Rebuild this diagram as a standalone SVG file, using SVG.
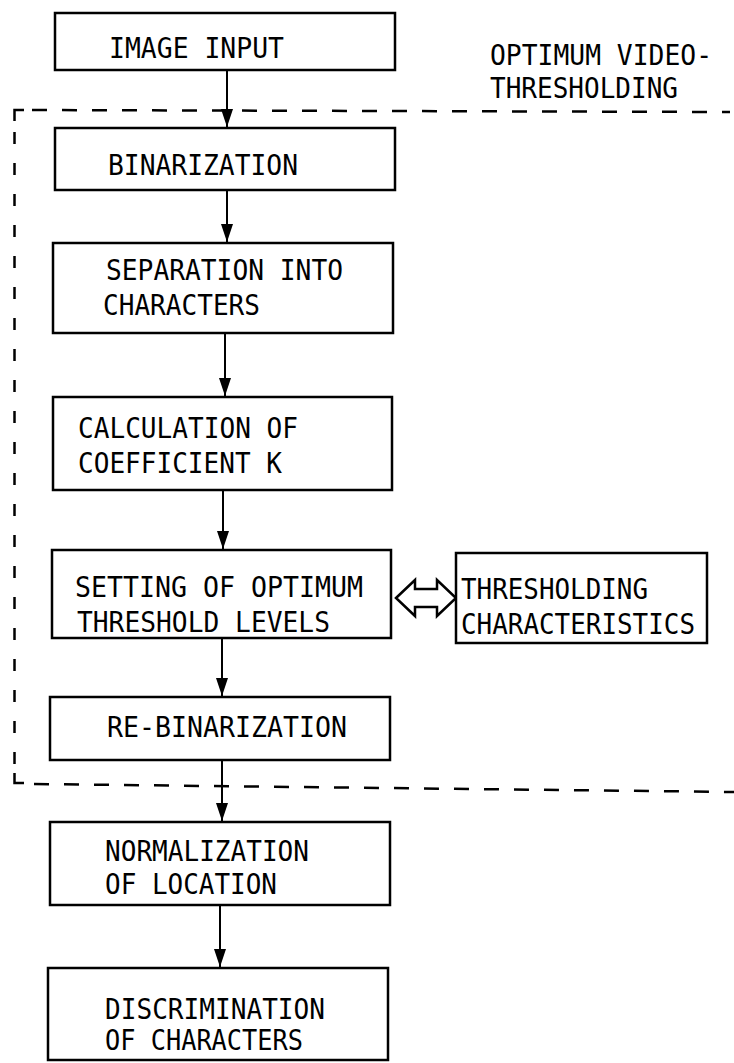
<svg xmlns="http://www.w3.org/2000/svg" width="734" height="1063" viewBox="0 0 734 1063">
<style>
  .box { fill: #fff; stroke: #000; stroke-width: 2.5; }
  .t { font-family: "DejaVu Sans Mono", "Liberation Mono", monospace; font-size: 29px; fill: #000; }
  .c { stroke: #000; stroke-width: 2; fill: none; }
  .dash { stroke: #000; stroke-width: 2.5; fill: none; }
  .dbl { fill: #fff; stroke: #000; stroke-width: 2.5; stroke-linejoin: miter; }
</style>
<defs>
  <marker id="ah" viewBox="0 0 18 12" refX="18" refY="6" markerWidth="18" markerHeight="12" markerUnits="userSpaceOnUse" orient="auto">
    <path d="M0,0 L18,6 L0,12 Z" fill="#000"/>
  </marker>
</defs>
<rect width="734" height="1063" fill="#fff"/>

<g id="boundary">
  <path class="dash" d="M32,110 L730,112" stroke-dasharray="15 15"/>
  <line class="dash" x1="14.5" y1="132" x2="14.5" y2="772" stroke-dasharray="12 19"/>
  <path class="dash" d="M34,784 L734,792" stroke-dasharray="15 15"/>
  <path class="dash" d="M14.5,121 L14.5,110 L24,110"/>
  <path class="dash" d="M14.5,773 L14.5,783 L24,783"/>
  <text class="t" x="490" y="65" textLength="222" lengthAdjust="spacingAndGlyphs">OPTIMUM VIDEO-</text>
  <text class="t" x="490" y="98" textLength="188" lengthAdjust="spacingAndGlyphs">THRESHOLDING</text>
</g>

<g id="connectors">
  <line class="c" x1="227" y1="70" x2="227" y2="127" marker-end="url(#ah)"/>
  <line class="c" x1="227" y1="190" x2="227" y2="242" marker-end="url(#ah)"/>
  <line class="c" x1="225" y1="333" x2="225" y2="396" marker-end="url(#ah)"/>
  <line class="c" x1="223" y1="490" x2="223" y2="549" marker-end="url(#ah)"/>
  <line class="c" x1="222" y1="638" x2="222" y2="696" marker-end="url(#ah)"/>
  <line class="c" x1="222" y1="760" x2="222" y2="821" marker-end="url(#ah)"/>
  <line class="c" x1="220" y1="905" x2="220" y2="967" marker-end="url(#ah)"/>
  <polygon class="dbl" points="396,598 415,580 415,589 437,589 437,580 456,598 437,616 437,607 415,607 415,616"/>
</g>

<g id="n-image-input">
  <rect class="box" x="55" y="13" width="340" height="57"/>
  <text class="t" x="109" y="58" textLength="175" lengthAdjust="spacingAndGlyphs">IMAGE INPUT</text>
</g>
<g id="n-binarization">
  <rect class="box" x="55" y="128" width="340" height="62"/>
  <text class="t" x="108" y="175" textLength="190" lengthAdjust="spacingAndGlyphs">BINARIZATION</text>
</g>
<g id="n-separation">
  <rect class="box" x="53" y="243" width="340" height="90"/>
  <text class="t" x="106" y="280" textLength="237" lengthAdjust="spacingAndGlyphs">SEPARATION INTO</text>
  <text class="t" x="103" y="315" textLength="157" lengthAdjust="spacingAndGlyphs">CHARACTERS</text>
</g>
<g id="n-calculation">
  <rect class="box" x="53" y="397" width="339" height="93"/>
  <text class="t" x="78" y="438" textLength="220" lengthAdjust="spacingAndGlyphs">CALCULATION OF</text>
  <text class="t" x="78" y="473" textLength="204" lengthAdjust="spacingAndGlyphs">COEFFICIENT K</text>
</g>
<g id="n-setting">
  <rect class="box" x="52" y="550" width="339" height="88"/>
  <text class="t" x="75" y="597" textLength="288" lengthAdjust="spacingAndGlyphs">SETTING OF OPTIMUM</text>
  <text class="t" x="77" y="632" textLength="253" lengthAdjust="spacingAndGlyphs">THRESHOLD LEVELS</text>
</g>
<g id="n-thresholding">
  <rect class="box" x="456" y="553" width="251" height="90"/>
  <text class="t" x="461" y="599" textLength="187" lengthAdjust="spacingAndGlyphs">THRESHOLDING</text>
  <text class="t" x="461" y="634" textLength="234" lengthAdjust="spacingAndGlyphs">CHARACTERISTICS</text>
</g>
<g id="n-rebinarization">
  <rect class="box" x="50" y="697" width="340" height="63"/>
  <text class="t" x="107" y="737" textLength="240" lengthAdjust="spacingAndGlyphs">RE-BINARIZATION</text>
</g>
<g id="n-normalization">
  <rect class="box" x="50" y="822" width="340" height="83"/>
  <text class="t" x="105" y="861" textLength="204" lengthAdjust="spacingAndGlyphs">NORMALIZATION</text>
  <text class="t" x="105" y="894" textLength="172" lengthAdjust="spacingAndGlyphs">OF LOCATION</text>
</g>
<g id="n-discrimination">
  <rect class="box" x="48" y="968" width="340" height="92"/>
  <text class="t" x="105" y="1019" textLength="220" lengthAdjust="spacingAndGlyphs">DISCRIMINATION</text>
  <text class="t" x="105" y="1050" textLength="198" lengthAdjust="spacingAndGlyphs">OF CHARACTERS</text>
</g>
</svg>
